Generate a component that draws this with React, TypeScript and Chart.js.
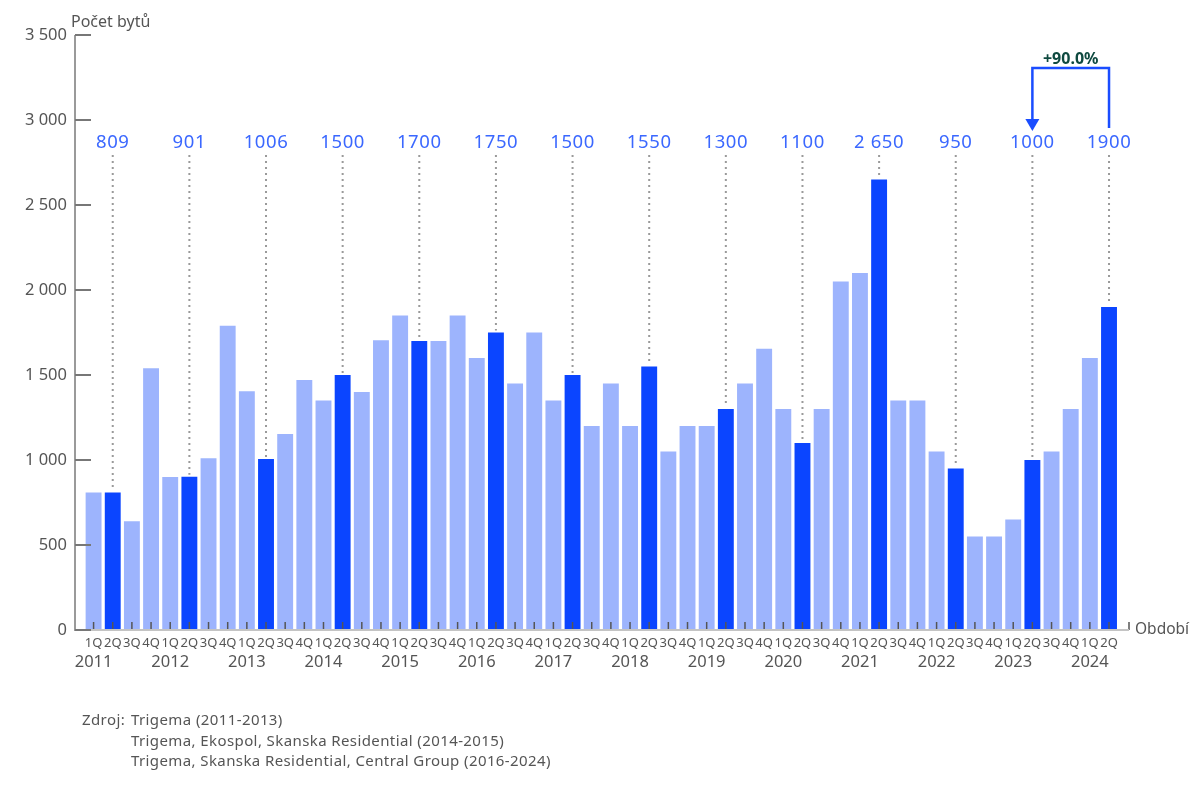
import React, { useEffect, useRef } from "react";
import { Chart, registerables } from "chart.js";

Chart.register(...registerables);

const years = [2011, 2012, 2013, 2014, 2015, 2016, 2017, 2018, 2019, 2020, 2021, 2022, 2023, 2024];
const quarterNames = ["1Q", "2Q", "3Q", "4Q"];

// Number of flats per quarter, 2011 1Q .. 2024 2Q
const values = [
  809, 809, 640, 1540,
  900, 901, 1010, 1790,
  1405, 1006, 1153, 1470,
  1350, 1500, 1400, 1705,
  1850, 1700, 1700, 1850,
  1600, 1750, 1450, 1750,
  1350, 1500, 1200, 1450,
  1200, 1550, 1050, 1200,
  1200, 1300, 1450, 1655,
  1300, 1100, 1300, 2050,
  2100, 2650, 1350, 1350,
  1050, 950, 550, 550,
  650, 1000, 1050, 1300,
  1600, 1900,
];

// labels printed above each 2Q bar
const topLabels = ["809", "901", "1006", "1500", "1700", "1750", "1500", "1550", "1300", "1100", "2 650", "950", "1000", "1900"];
const yTicks = { min: 0, max: 3500, step: 500 };
const changeLabel = "+90.0%";
const yTitle = "Počet bytů";
const xTitle = "Období";
const sourceLines = [
  "Trigema (2011-2013)",
  "Trigema, Ekospol, Skanska Residential (2014-2015)",
  "Trigema, Skanska Residential, Central Group (2016-2024)",
];

const quarterLabels: string[] = [];
const yearLabels: string[] = [];
values.forEach((_, i) => {
  const q = i % 4;
  quarterLabels.push(quarterNames[q]);
  yearLabels.push(q === 0 ? String(years[Math.floor(i / 4)]) : "");
});

const LIGHT = "#9db4fd";
const DARK = "#0b45ff";
const LABEL_BLUE = "#3b68ff";
const GRAY_TEXT = "#555555";
const FONT = "'Noto Sans', Lato, sans-serif";

const fmt = (v: number) => String(v).replace(/\B(?=(\d{3})+(?!\d))/g, " ");

const overlay = {
  id: "overlay",
  afterDatasetsDraw(chart: any) {
    const ctx = chart.ctx as any;
    const xs = chart.scales.x;
    const ys = chart.scales.y;
    const axisX = 75;
    const bottom = ys.getPixelForValue(0);
    const top = ys.getPixelForValue(yTicks.max);
    const endX = 1129;
    ctx.save();

    // x tick marks
    ctx.strokeStyle = "#555";
    ctx.lineWidth = 1.5;
    values.forEach((_, i) => {
      const px = xs.getPixelForValue(i);
      ctx.beginPath();
      ctx.moveTo(px, bottom - 8);
      ctx.lineTo(px, bottom);
      ctx.stroke();
    });
    ctx.beginPath();
    ctx.moveTo(endX, bottom - 8);
    ctx.lineTo(endX, bottom);
    ctx.stroke();

    // x axis line
    ctx.strokeStyle = "#c4c4c4";
    ctx.lineWidth = 2;
    ctx.beginPath();
    ctx.moveTo(axisX, bottom);
    ctx.lineTo(endX, bottom);
    ctx.stroke();

    // y axis line
    ctx.strokeStyle = "#9a9a9a";
    ctx.beginPath();
    ctx.moveTo(axisX, top);
    ctx.lineTo(axisX, bottom + 1);
    ctx.stroke();

    // y tick marks
    ctx.strokeStyle = "#777";
    ys.ticks.forEach((t: any) => {
      const py = ys.getPixelForValue(t.value);
      ctx.beginPath();
      ctx.moveTo(axisX, py);
      ctx.lineTo(axisX + 16, py);
      ctx.stroke();
    });

    // dotted guides + top labels
    const labelY = 143;
    years.forEach((_, k) => {
      const idx = k * 4 + 1;
      if (idx >= values.length) return;
      const px = xs.getPixelForValue(idx);
      const py = ys.getPixelForValue(values[idx]);
      ctx.strokeStyle = "#9a9a9a";
      ctx.lineWidth = 2;
      ctx.setLineDash([2, 4]);
      ctx.beginPath();
      ctx.moveTo(px, labelY + 12);
      ctx.lineTo(px, py - 2);
      ctx.stroke();
      ctx.setLineDash([]);
      ctx.fillStyle = LABEL_BLUE;
      ctx.font = `18.5px ${FONT}`;
      ctx.letterSpacing = "0.6px";
      ctx.textAlign = "center";
      ctx.textBaseline = "middle";
      ctx.fillText(topLabels[k], px, labelY);
      ctx.letterSpacing = "0px";
    });

    // bracket arrow between last two 2Q bars
    const iA = (years.length - 2) * 4 + 1;
    const iB = (years.length - 1) * 4 + 1;
    const xA = xs.getPixelForValue(iA);
    const xB = xs.getPixelForValue(iB);
    const yBar = 68;
    ctx.strokeStyle = "#1a4dff";
    ctx.fillStyle = "#1a4dff";
    ctx.lineWidth = 2.5;
    ctx.beginPath();
    ctx.moveTo(xB, 128);
    ctx.lineTo(xB, yBar);
    ctx.lineTo(xA, yBar);
    ctx.lineTo(xA, 120);
    ctx.stroke();
    ctx.beginPath();
    ctx.moveTo(xA - 7, 119);
    ctx.lineTo(xA + 7, 119);
    ctx.lineTo(xA, 131);
    ctx.closePath();
    ctx.fill();
    ctx.fillStyle = "#0f4a40";
    ctx.font = `bold 16px ${FONT}`;
    ctx.textAlign = "center";
    ctx.textBaseline = "middle";
    ctx.fillText(changeLabel, (xA + xB) / 2, 59);

    // titles
    ctx.fillStyle = GRAY_TEXT;
    ctx.font = `16px ${FONT}`;
    ctx.textAlign = "left";
    ctx.fillText(yTitle, 71, 22);
    ctx.font = `15.5px ${FONT}`;
    ctx.fillText(xTitle, 1135, bottom);

    // source
    ctx.font = `15px ${FONT}`;
    ctx.letterSpacing = "0.4px";
    ctx.fillText("Zdroj:", 82, 721);
    sourceLines.forEach((s, i) => ctx.fillText(s, 131, 721 + i * 20.5));
    ctx.letterSpacing = "0px";

    ctx.restore();
  },
};

export default function App() {
  const ref = useRef<HTMLCanvasElement | null>(null);
  useEffect(() => {
    if (!ref.current) return;
    const chart = new Chart(ref.current, {
      type: "bar",
      data: {
        labels: quarterLabels,
        datasets: [
          {
            data: values,
            backgroundColor: quarterLabels.map((q) => (q === "2Q" ? DARK : LIGHT)),
            barPercentage: 0.83,
            categoryPercentage: 1,
          },
        ],
      },
      options: {
        responsive: false,
        animation: false,
        devicePixelRatio: 1,
        layout: { padding: { left: 22, top: 35, right: 81.4, bottom: 112 } },
        plugins: { legend: { display: false }, tooltip: { enabled: false } },
        scales: {
          x: {
            type: "category",
            offset: true,
            grid: { display: false, drawTicks: false },
            border: { display: false },
            afterFit: (s: any) => {
              s.height = 22;
            },
            ticks: {
              autoSkip: false,
              maxRotation: 0,
              minRotation: 0,
              padding: 5,
              color: GRAY_TEXT,
              font: { family: FONT, size: 13 },
            },
          },
          x2: {
            type: "category",
            position: "bottom",
            labels: yearLabels,
            offset: true,
            grid: { display: false, drawTicks: false },
            border: { display: false },
            afterFit: (s: any) => {
              s.height = 22;
            },
            ticks: {
              autoSkip: false,
              maxRotation: 0,
              minRotation: 0,
              padding: 0,
              color: GRAY_TEXT,
              font: { family: FONT, size: 16.5 },
            },
          },
          y: {
            min: yTicks.min,
            max: yTicks.max,
            grid: { display: false, drawTicks: false },
            border: { display: false },
            afterFit: (s: any) => {
              s.width = 62;
            },
            ticks: {
              stepSize: yTicks.step,
              padding: 17,
              color: GRAY_TEXT,
              font: { family: FONT, size: 16.5 },
              callback: (v: any) => fmt(Number(v)),
            },
          },
        },
      },
      plugins: [overlay],
    });
    return () => chart.destroy();
  }, []);
  return (
    <div style={{ position: "absolute", left: 0, top: 0, width: 1200, height: 786, background: "#fff" }}>
      <canvas ref={ref} width={1200} height={786} style={{ width: 1200, height: 786, display: "block" }} />
    </div>
  );
}
